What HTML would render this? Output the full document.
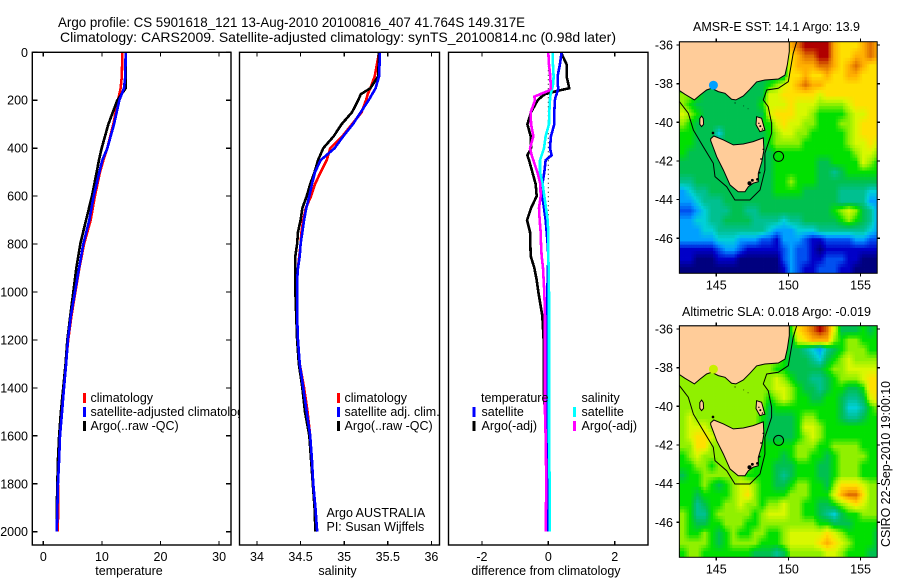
<!DOCTYPE html>
<html lang="en">
<head>
<meta charset="utf-8">
<title>Argo profile chart</title>
<style>
html,body{margin:0;padding:0;background:#fff;width:900px;height:580px;overflow:hidden}
svg{display:block}
text{font-family:"Liberation Sans",sans-serif;font-size:12.5px;fill:#000}
.title{font-size:14px}
.frame{fill:none;stroke:#000;stroke-width:1.4}
.tick{stroke:#000;stroke-width:1.2;shape-rendering:crispEdges}
.prof{fill:none;stroke-width:2.6;stroke-linejoin:miter;shape-rendering:crispEdges}
</style>
</head>
<body>
<svg id="chart" xmlns="http://www.w3.org/2000/svg" width="900" height="580" viewBox="0 0 900 580">
  <defs>
    <clipPath id="clip-temp-legend"><rect x="32" y="40" width="207.5" height="510"/></clipPath>
  </defs>
  <text class="title" x="58" y="27" textLength="467" lengthAdjust="spacingAndGlyphs">Argo profile: CS 5901618_121 13-Aug-2010 20100816_407 41.764S 149.317E</text>
  <text class="title" x="60" y="42" textLength="556" lengthAdjust="spacingAndGlyphs">Climatology: CARS2009. Satellite-adjusted climatology: synTS_20100814.nc (0.98d later)</text>
  <g id="panels"></g>
  <g id="maps"></g>

  <g clip-path="url(#clip-temp-legend)">
    <rect x="83" y="393" width="3" height="10" fill="#ff0000"/>
    <text x="90.5" y="402">climatology</text>
    <rect x="83" y="407" width="3" height="10" fill="#0000ff"/>
    <text x="90.5" y="416">satellite-adjusted climatology</text>
    <rect x="83" y="421" width="3" height="10" fill="#000"/>
    <text x="90.5" y="430">Argo(..raw -QC)</text>
  </g>
  <g>
    <rect x="337" y="393" width="3" height="10" fill="#ff0000"/>
    <text x="344.5" y="402">climatology</text>
    <rect x="337" y="407" width="3" height="10" fill="#0000ff"/>
    <text x="344.5" y="416">satellite adj. clim.</text>
    <rect x="337" y="421" width="3" height="10" fill="#000"/>
    <text x="344.5" y="430">Argo(..raw -QC)</text>
    <text x="326.5" y="517">Argo AUSTRALIA</text>
    <text x="326.5" y="531">PI: Susan Wijffels</text>
  </g>
  <g>
    <text x="481" y="402">temperature</text>
    <rect x="472.5" y="407" width="3" height="10" fill="#0000ff"/>
    <text x="481.5" y="416">satellite</text>
    <rect x="472.5" y="421" width="3" height="10" fill="#000"/>
    <text x="481.5" y="430">Argo(-adj)</text>
    <text x="581.5" y="402">salinity</text>
    <rect x="573" y="407" width="3" height="10" fill="#00ffff"/>
    <text x="581.5" y="416">satellite</text>
    <rect x="573" y="421" width="3" height="10" fill="#ff00ff"/>
    <text x="581.5" y="430">Argo(-adj)</text>
  </g>
  <text transform="translate(890,547) rotate(-90)" textLength="166" lengthAdjust="spacingAndGlyphs">CSIRO 22-Sep-2010 19:00:10</text>
</svg>
<script>
/* ---------- profile data ---------- */
var tempDepths = [0,100,150,200,300,400,450,500,600,700,800,900,1000,1100,1200,1300,1400,1500,1600,1700,1800,1900,2000];
var tempClim   = [13.5,13.4,13.2,12.75,11.95,10.93,10.25,9.67,8.8,8.08,6.95,6.15,5.47,4.8,4.25,3.85,3.5,3.15,2.85,2.7,2.5,2.55,2.45];
var tempSat    = [14.05,14.0,13.77,12.98,12.07,10.93,10.07,9.56,8.6,7.85,6.83,6.1,5.4,4.7,4.2,3.9,3.53,3.2,2.85,2.7,2.5,2.4,2.29];
var tempArgo   = [14.05,14.05,14.05,12.63,11.1,9.96,9.5,9.1,8.31,7.29,6.31,5.63,5.12,4.6,4.1,3.8,3.4,3.0,2.7,2.5,2.4,2.3,2.3];

var salDepths = [0,100,150,175,200,250,300,350,400,450,500,550,600,650,700,750,800,850,900,950,1000,1100,1200,1300,1400,1500,1600,1700,1800,1900,2000];
var salClim   = [35.40,35.35,35.30,35.27,35.25,35.20,35.09,34.98,34.84,34.80,34.73,34.665,34.62,34.56,34.53,34.51,34.50,34.485,34.47,34.46,34.46,34.46,34.47,34.49,34.54,34.58,34.61,34.63,34.645,34.67,34.69];
var salSat    = [35.41,35.40,35.36,35.32,35.28,35.19,35.10,34.99,34.89,34.73,34.665,34.63,34.60,34.565,34.54,34.52,34.50,34.49,34.47,34.46,34.46,34.46,34.47,34.49,34.53,34.57,34.61,34.63,34.645,34.67,34.69];
var salArgo   = [35.40,35.39,35.30,35.19,35.16,35.09,34.97,34.88,34.76,34.70,34.66,34.61,34.57,34.52,34.50,34.47,34.46,34.44,34.44,34.44,34.44,34.45,34.46,34.48,34.52,34.55,34.60,34.62,34.64,34.66,34.67];

var diffDepths  = [0,50,100,130,150,160,175,185,200,250,300,350,400,430,450,500,550,600,650,700,750,800,850,900,950,1000,1100,1200,1300,1400,1500,1600,1700,1800,1900,2000];
var diffTempArgo= [.38,.55,.55,.60,.63,.30,-.10,-.20,-.32,-.52,-.63,-.53,-.52,-.63,-.58,-.48,-.38,-.35,-.52,-.64,-.55,-.54,-.53,-.42,-.35,-.30,-.18,-.14,-.14,-.14,-.10,-.07,-.05,-.04,-.05,-.05];
var diffTempSat = [.40,.35,.28,.28,.30,.28,.25,.22,.20,.18,.18,.08,.05,.10,-.08,-.12,-.18,-.18,-.13,-.08,-.05,-.02,0,-.01,-.02,-.03,-.03,-.03,-.04,-.04,-.04,-.04,-.04,-.04,-.04,-.04];
var diffSalSat  = [.13,.14,.16,.15,.12,.10,.07,.06,.05,.03,.02,-.08,-.13,-.20,-.25,-.25,-.17,-.12,-.07,-.02,0,0,0,.01,.01,.02,.02,.02,.02,.02,.02,.02,.03,.04,.04,.04];
var diffSalArgo = [0,.02,.06,.07,.08,.02,-.25,-.42,-.40,-.53,-.52,-.45,-.55,-.50,-.45,-.33,-.24,-.23,-.28,-.26,-.23,-.22,-.20,-.16,-.14,-.12,-.10,-.10,-.10,-.10,-.10,-.08,-.07,-.06,-.07,-.08];

var depthTicks = [0,200,400,600,800,1000,1200,1400,1600,1800,2000];
var tempTicks  = [0,10,20,30];
var salTicks   = [34,34.5,35,35.5,36];
var diffTicks  = [-2,0,2];
var latTicks   = [-36,-38,-40,-42,-44,-46];
var lonTicks   = [145,150,155];

/* ---------- map data (colour-scale level per half-degree cell, north to south) ---------- */
var sstLevels = [
[6,6,6,6,6,6,6,6,6,6,6,6,6,6,6,11,12,13,13,13,13,11,10,10,10,11,12,11],
[6,6,6,6,6,6,6,6,6,6,6,6,6,6,6,10,11,12,12,13,13,11,10,10,11,11,12,11],
[6,6,6,6,6,6,6,6,6,6,6,6,6,6,6,10,11,11,11,12,12,11,10,11,12,11,10,10],
[6,6,6,6,6,6,6,6,6,6,6,6,6,6,6,10,10,11,10,10,11,10,10,11,11,10,10,10],
[6,6,6,6,6,6,6,6,6,6,6,6,7,8,9,10,11,12,11,11,10,10,10,10,10,10,10,10],
[8,8,7,6,6,6,6,6,6,6,6,6,9,9,10,10,10,10,10,9,10,10,10,10,10,10,10,10],
[8,7,6,6,6,6,6,6,6,6,6,7,9,9,9,10,9,9,9,8,8,8,8,9,10,10,10,10],
[9,8,7,6,6,6,6,6,6,6,6,6,9,10,10,10,9,9,8,7,7,7,7,8,9,9,10,10],
[8,7,6,6,6,6,6,6,6,6,6,7,7,9,10,9,9,8,8,7,7,7,8,8,9,10,10,10],
[7,7,6,6,6,4,6,6,6,6,6,6,7,8,9,9,8,8,7,7,7,7,7,8,9,10,10,10],
[7,7,6,6,6,6,6,6,6,6,6,6,7,8,8,8,8,7,7,7,7,7,7,8,9,9,10,9],
[7,6,6,6,6,6,6,6,6,6,6,6,6,7,7,7,7,7,7,7,7,7,7,7,8,9,9,8],
[6,6,6,6,6,6,6,6,6,6,6,6,6,7,7,7,7,7,7,6,6,7,7,7,7,9,8,7],
[6,6,6,6,6,6,6,6,6,6,6,6,6,7,7,7,7,7,7,6,6,5,6,7,7,7,7,7],
[5,5,6,6,6,6,6,6,6,6,6,6,6,7,7,8,7,7,7,6,6,6,6,6,6,6,6,6],
[3,4,5,5,6,6,6,6,6,6,6,6,6,7,7,7,7,6,6,6,6,6,5,5,5,5,4,4],
[3,3,4,5,5,5,6,6,6,6,6,6,6,6,6,6,6,6,6,6,6,6,5,5,5,5,3,3],
[2,2,3,4,5,5,5,6,6,5,5,6,6,6,6,6,6,6,6,6,6,7,8,9,8,6,5,3],
[3,3,4,4,5,5,6,6,6,6,5,5,5,5,4,5,5,6,6,6,6,6,7,8,7,6,5,3],
[3,3,3,4,4,5,5,5,5,5,5,5,4,3,3,3,4,4,4,5,5,5,5,5,5,5,4,3],
[3,3,3,3,3,4,4,4,3,3,3,2,2,1,3,3,3,2,1,1,2,2,2,2,3,3,2,2],
[1,1,1,1,1,2,3,3,2,1,1,1,1,1,2,3,2,2,1,0,1,1,1,1,1,1,1,1],
[1,1,0,0,0,1,1,1,0,0,0,0,0,0,2,3,2,2,1,1,2,2,2,1,1,0,0,0],
[0,0,0,0,0,0,0,0,0,0,0,0,0,0,1,3,2,1,1,2,2,2,1,1,0,0,0,0]
];
var slaLevels = [
[8,8,8,8,8,8,8,8,8,8,8,8,8,8,8,7,10,11,12,13,12,9,6,6,6,7,6,7],
[8,8,8,8,8,8,8,8,8,8,8,8,8,8,8,6,9,10,11,11,11,8,7,8,8,7,7,7],
[8,8,8,8,8,8,8,8,8,8,8,8,8,8,7,6,6,5,4,3,5,6,7,8,8,8,7,7],
[8,8,8,8,8,8,8,8,8,8,8,8,8,8,7,6,6,6,5,4,6,7,8,9,8,8,8,8],
[8,8,8,8,8,8,8,8,8,8,8,8,8,7,7,6,6,6,6,6,7,8,8,9,9,9,9,9],
[8,8,8,8,8,8,8,8,8,8,8,8,8,9,8,7,6,6,5,5,6,7,8,8,8,9,10,10],
[8,8,8,8,8,8,8,8,8,8,8,8,8,9,9,8,7,6,6,5,6,7,7,6,6,7,10,10],
[8,8,8,8,8,8,8,8,8,8,8,8,7,8,9,8,7,7,6,6,7,7,6,5,5,6,9,10],
[8,8,8,8,8,8,8,8,8,8,8,8,6,7,7,7,7,7,7,7,7,7,6,4,4,5,7,8],
[8,9,8,8,8,8,8,8,8,8,8,7,6,6,6,6,7,8,8,7,7,7,6,5,5,6,7,7],
[8,9,9,9,8,8,8,8,8,8,8,7,6,6,6,6,7,9,9,8,7,7,7,7,7,7,7,7],
[8,9,10,10,9,8,8,8,8,8,8,7,6,6,6,6,7,8,9,8,7,7,7,7,7,7,7,7],
[8,8,10,10,8,8,8,8,8,8,8,7,7,7,7,7,8,8,8,7,7,8,8,8,8,7,7,7],
[7,8,9,8,8,8,8,8,8,8,7,7,7,7,6,7,8,8,7,7,6,7,8,8,8,8,7,7],
[7,7,8,8,7,8,8,8,8,8,7,7,7,6,6,6,7,7,7,6,6,7,8,8,8,7,7,7],
[6,7,7,8,8,8,8,8,8,7,7,7,7,6,5,6,7,7,7,6,6,7,8,8,8,7,7,7],
[7,7,7,8,7,6,7,8,9,9,8,7,7,6,6,7,8,8,7,7,6,8,10,10,10,9,8,8],
[7,7,6,7,7,7,7,8,9,10,8,7,7,7,7,8,8,8,7,7,7,9,11,12,12,10,8,8],
[7,7,5,6,7,7,8,8,9,8,8,7,8,8,9,8,8,7,7,6,6,7,8,9,10,9,8,8],
[8,7,5,5,7,8,8,8,8,8,7,8,9,9,9,8,8,7,7,6,5,4,6,7,7,8,8,8],
[8,7,6,6,7,7,8,8,8,7,7,8,8,8,8,8,8,8,8,7,7,6,6,6,7,7,7,7],
[8,7,7,8,7,6,7,8,7,7,8,8,7,7,8,9,9,9,9,9,10,9,8,7,7,7,7,6],
[8,8,8,8,7,6,7,8,8,8,8,7,7,7,8,9,9,9,9,10,11,10,9,8,7,7,7,6],
[7,8,8,7,7,7,7,7,7,7,6,6,6,5,6,8,8,8,8,8,9,9,8,7,7,7,6,6]
];
var levelColors = ['#00007f','#0000c8','#0050f0','#00a0ff','#00d0d8','#00c090','#00c050','#00e000','#90f000','#d8f800','#ffe000','#ffb000','#e07000','#b00000'];

/* geography in [lon, lat] */
var mainland = [[142.44,-35.83],[142.44,-38.36],[142.83,-38.55],[143.48,-38.84],[143.87,-38.59],[144.33,-38.33],[144.68,-38.24],[145.14,-38.41],[145.6,-38.5],[146.06,-38.81],[146.36,-38.84],[146.87,-38.64],[147.33,-38.29],[147.79,-37.91],[148.37,-37.81],[149.3,-37.76],[149.76,-37.55],[149.92,-37.03],[150.06,-36.34],[150.06,-35.83]];
var tasmania = [[144.61,-40.85],[144.83,-40.71],[145.49,-40.91],[146.18,-41.17],[146.87,-41.12],[147.56,-41.0],[148.26,-40.8],[148.3,-41.43],[148.15,-42.04],[147.91,-42.64],[147.91,-43.07],[147.56,-43.15],[147.22,-43.33],[146.99,-43.59],[146.52,-43.59],[145.95,-43.24],[145.49,-42.47],[145.03,-41.78],[144.61,-40.95]];
var kingIsland = [[143.98,-39.68],[144.1,-39.8],[144.12,-40.1],[143.98,-40.22],[143.86,-40.1],[143.86,-39.8]];
var flindersIsland = [[147.79,-39.71],[148.14,-39.79],[148.37,-40.4],[148.02,-40.48],[147.75,-40.12]];
var coastBlobs = [[147.3,-43.15,.14],[147.5,-43.0,.1],[147.85,-42.95,.09],[148.0,-42.6,.07],[148.1,-41.9,.06],[148.25,-41.4,.05],[148.05,-40.2,.07],[147.95,-40.05,.05],[148.2,-40.35,.05],[144.77,-40.55,.09],[146.3,-39.0,.04],[147.2,-39.3,.03],[146.9,-39.15,.03]];
var isobath = [[142.44,-38.93],[143.06,-39.53],[143.41,-40.4],[144.1,-41.26],[144.79,-42.12],[144.91,-42.81],[145.72,-43.33],[146.29,-44.02],[147.33,-44.02],[148.03,-43.5],[148.37,-42.47],[148.37,-41.6],[148.83,-40.57],[148.83,-40.05],[148.6,-39.19],[148.26,-38.84],[148.49,-38.33],[149.3,-38.24],[149.99,-37.9],[150.33,-36.43],[150.57,-35.83]];
var profileLon = 149.317;
var profileLat = -41.764;

/* ---------- drawing ---------- */
var svg = document.getElementById('chart');
var NS = 'http://www.w3.org/2000/svg';
function mk(tag, parent){ var e = document.createElementNS(NS, tag); parent.appendChild(e); return e; }

var depthY = function(d){ return 52.3 + d * 0.2397; };

function ticksAndFrame(g, left, right, xScale, xTicks, showDepth, topTicks){
  var top = 52.3, bot = 545;
  var f = mk('rect', g);
  
  
  f.setAttribute('class', 'frame');
  f.setAttribute('x', left); f.setAttribute('y', top);
  f.setAttribute('width', right - left); f.setAttribute('height', bot - top);
  xTicks.forEach(function(t){
    var x = xScale(t);
    var b = mk('line', g);
    
    
    b.setAttribute('class', 'tick');
    b.setAttribute('x1', x); b.setAttribute('x2', x);
    b.setAttribute('y1', bot); b.setAttribute('y2', bot - 4);
    if (topTicks.indexOf(t) >= 0){
      var u = mk('line', g);
      
      
      u.setAttribute('class', 'tick');
      u.setAttribute('x1', x); u.setAttribute('x2', x);
      u.setAttribute('y1', top); u.setAttribute('y2', top + 4);
    }
    var l = mk('text', g);
    
    
    l.setAttribute('x', x); l.setAttribute('y', 561);
    l.setAttribute('text-anchor', 'middle');
    l.textContent = String(t);
  });
  if (showDepth){
    depthTicks.forEach(function(d){
      var y = depthY(d);
      [[left, left + 5], [right, right - 5]].forEach(function(p){
        var t = mk('line', g);
        
        
        t.setAttribute('class', 'tick');
        t.setAttribute('x1', p[0]); t.setAttribute('x2', p[1]);
        t.setAttribute('y1', y); t.setAttribute('y2', y);
      });
      var l = mk('text', g);
      
      
      l.setAttribute('x', 28); l.setAttribute('y', y + 4.5);
      l.setAttribute('text-anchor', 'end');
      l.textContent = String(d);
    });
  }
}

function profile(g, name, color, depths, values, xScale, width){
  var p = mk('polyline', g);
  
  
  p.setAttribute('class', 'prof');
  p.setAttribute('stroke', color);
  if (width) p.setAttribute('stroke-width', width);
  p.setAttribute('points', values.map(function(v, i){ return xScale(v).toFixed(2) + ',' + depthY(depths[i]).toFixed(2); }).join(' '));
}

function axisTitle(g, name, x, label){
  var t = mk('text', g);
  
  
  t.setAttribute('x', x); t.setAttribute('y', 575);
  t.setAttribute('text-anchor', 'middle');
  t.textContent = label;
}

var panels = document.getElementById('panels');

/* temperature panel */
var gT = mk('g', panels);


var xT = function(v){ return 43.3 + v * 5.86; };
profile(gT, 'temperature-climatology-line', '#ff0000', tempDepths, tempClim, xT);
profile(gT, 'temperature-argo-line', '#000000', tempDepths, tempArgo, xT);
profile(gT, 'temperature-satellite-line', '#0000ff', tempDepths, tempSat, xT);
ticksAndFrame(gT, 32.3, 231, xT, tempTicks, true, tempTicks);
axisTitle(gT, 'temperature-axis-title', 129, 'temperature');

/* salinity panel */
var gS = mk('g', panels);


var xS = function(v){ return 257 + (v - 34) * 87.2; };
profile(gS, 'salinity-climatology-line', '#ff0000', salDepths, salClim, xS);
profile(gS, 'salinity-argo-line', '#000000', salDepths, salArgo, xS);
profile(gS, 'salinity-satellite-line', '#0000ff', salDepths, salSat, xS);
ticksAndFrame(gS, 239.5, 439.5, xS, salTicks, false, salTicks);
axisTitle(gS, 'salinity-axis-title', 337.5, 'salinity');

/* difference panel */
var gD = mk('g', panels);


var xD = function(v){ return 548.3 + v * 33.2; };
var zero = mk('line', gD);


zero.setAttribute('x1', xD(0)); zero.setAttribute('x2', xD(0));
zero.setAttribute('y1', depthY(0)); zero.setAttribute('y2', depthY(2000));
zero.setAttribute('stroke', '#000');
zero.setAttribute('stroke-dasharray', '1 3.5');
profile(gD, 'temperature-argo-difference-line', '#000000', diffDepths, diffTempArgo, xD, 2.4);
profile(gD, 'temperature-satellite-difference-line', '#0000ff', diffDepths, diffTempSat, xD, 2.4);
profile(gD, 'salinity-satellite-difference-line', '#00ffff', diffDepths, diffSalSat, xD, 2.4);
profile(gD, 'salinity-argo-difference-line', '#ff00ff', diffDepths, diffSalArgo, xD, 2.4);
ticksAndFrame(gD, 448.5, 648, xD, diffTicks, false, [-2, 2]);
axisTitle(gD, 'difference-axis-title', 546, 'difference from climatology');

/* colour scale and bilinear sampling of the level grids */
function hexToRgb(h){ return [parseInt(h.substr(1,2),16), parseInt(h.substr(3,2),16), parseInt(h.substr(5,2),16)]; }
function levelColor(v){
  var n = levelColors.length - 1;
  var c = Math.max(0, Math.min(n, v));
  var a = Math.floor(c), b = Math.min(n, a + 1), t = c - a;
  var A = hexToRgb(levelColors[a]), B = hexToRgb(levelColors[b]);
  return 'rgb(' + Math.round(A[0] + (B[0]-A[0])*t) + ',' + Math.round(A[1] + (B[1]-A[1])*t) + ',' + Math.round(A[2] + (B[2]-A[2])*t) + ')';
}
function sampleGrid(levels, u, v){
  var rows = levels.length, cols = levels[0].length;
  var x = Math.max(0, Math.min(cols - 1, u)), y = Math.max(0, Math.min(rows - 1, v));
  var i0 = Math.floor(x), j0 = Math.floor(y);
  var i1 = Math.min(cols - 1, i0 + 1), j1 = Math.min(rows - 1, j0 + 1);
  var fx = x - i0, fy = y - j0;
  return levels[j0][i0]*(1-fx)*(1-fy) + levels[j0][i1]*fx*(1-fy) + levels[j1][i0]*(1-fx)*fy + levels[j1][i1]*fx*fy;
}

/* maps */
function drawMap(cfg){
  var maps = document.getElementById('maps');
  var g = mk('g', maps);
  
  
  var lonX = function(lon){ return 716.3 + (lon - 145) * 14.43; };
  var latY = function(lat){ return cfg.y36 + (-36 - lat) * 19.33; };
  var left = lonX(142.44), right = lonX(156.15);
  var top = latY(-35.83), bottom = latY(-47.81);
  var clipId = cfg.name + '-clip';
  var cp = mk('clipPath', g);
  cp.setAttribute('id', clipId);
  var cr = mk('rect', cp);
  cr.setAttribute('x', left); cr.setAttribute('y', top);
  cr.setAttribute('width', right - left); cr.setAttribute('height', bottom - top);
  var inner = mk('g', g);
  inner.setAttribute('clip-path', 'url(#' + clipId + ')');
  var sub = 3;
  var rowsN = cfg.levels.length, colsN = cfg.levels[0].length;
  for (var j = 0; j < rowsN * sub; j++){
    for (var i = 0; i < colsN * sub; i++){
      var level = sampleGrid(cfg.levels, (i - 1) / sub, (j - 1) / sub);
      var c = mk('rect', inner);
      
      
      c.setAttribute('x', lonX(142.44 + i * 0.5 / sub).toFixed(2));
      c.setAttribute('y', latY(-35.83 - j * 0.5 / sub).toFixed(2));
      c.setAttribute('width', (0.5 / sub * 14.43 + 0.4).toFixed(2));
      c.setAttribute('height', (0.5 / sub * 19.33 + 0.4).toFixed(2));
      c.setAttribute('fill', levelColor(level));
    }
  }
  var toPts = function(arr){ return arr.map(function(p){ return lonX(p[0]).toFixed(1) + ',' + latY(p[1]).toFixed(1); }).join(' '); };
  [[mainland, 'mainland'], [tasmania, 'tasmania'], [kingIsland, 'king-island'], [flindersIsland, 'flinders-island']].forEach(function(s){
    var p = mk('polygon', inner);
    
    
    p.setAttribute('points', toPts(s[0]));
    p.setAttribute('fill', '#ffcc99');
    p.setAttribute('stroke', '#000');
    p.setAttribute('stroke-width', '1');
  });
  var bay = mk('circle', inner);
  
  
  bay.setAttribute('cx', lonX(144.8)); bay.setAttribute('cy', latY(-38.08)); bay.setAttribute('r', 4.5);
  bay.setAttribute('fill', cfg.bayColor);
  coastBlobs.forEach(function(b){
    var e = mk('ellipse', inner);
    
    
    e.setAttribute('cx', lonX(b[0])); e.setAttribute('cy', latY(b[1]));
    e.setAttribute('rx', b[2] * 14.43); e.setAttribute('ry', b[2] * 14.43);
    e.setAttribute('fill', '#000');
  });
  var iso = mk('polyline', inner);
  
  
  iso.setAttribute('points', toPts(isobath));
  iso.setAttribute('fill', 'none');
  iso.setAttribute('stroke', '#000');
  iso.setAttribute('stroke-width', '1');
  var marker = mk('circle', inner);
  
  
  marker.setAttribute('cx', lonX(profileLon)); marker.setAttribute('cy', latY(profileLat)); marker.setAttribute('r', 5);
  marker.setAttribute('fill', 'none');
  marker.setAttribute('stroke', '#000');
  var f = mk('rect', g);
  
  
  f.setAttribute('x', left); f.setAttribute('y', top);
  f.setAttribute('width', right - left); f.setAttribute('height', bottom - top);
  f.setAttribute('fill', 'none');
  f.setAttribute('stroke', '#000');
  latTicks.forEach(function(lat){
    var y = latY(lat);
    [[left - 3, left], [right, right + 3]].forEach(function(p){
      var t = mk('line', g);
      
      
      t.setAttribute('class', 'tick');
      t.setAttribute('x1', p[0]); t.setAttribute('x2', p[1]);
      t.setAttribute('y1', y); t.setAttribute('y2', y);
    });
    var l = mk('text', g);
    
    
    l.setAttribute('x', 673); l.setAttribute('y', y + 4.5);
    l.setAttribute('text-anchor', 'end');
    l.textContent = String(lat);
  });
  lonTicks.forEach(function(lon){
    var x = lonX(lon);
    [[top - 3, top], [bottom, bottom + 3]].forEach(function(p){
      var t = mk('line', g);
      
      
      t.setAttribute('class', 'tick');
      t.setAttribute('x1', x); t.setAttribute('x2', x);
      t.setAttribute('y1', p[0]); t.setAttribute('y2', p[1]);
    });
    var l = mk('text', g);
    
    
    l.setAttribute('x', x); l.setAttribute('y', bottom + 16);
    l.setAttribute('text-anchor', 'middle');
    l.textContent = String(lon);
  });
  var ti = mk('text', g);
  
  
  ti.setAttribute('x', cfg.titleX); ti.setAttribute('y', cfg.titleY);
  ti.setAttribute('textLength', cfg.titleLen);
  ti.setAttribute('lengthAdjust', 'spacingAndGlyphs');
  ti.textContent = cfg.title;
}

drawMap({name:'sst-map', levels:sstLevels, y36:45, title:'AMSR-E SST: 14.1 Argo: 13.9', titleX:693, titleY:31, titleLen:167, bayColor:'#00a0ff'});
drawMap({name:'sla-map', levels:slaLevels, y36:329, title:'Altimetric SLA: 0.018 Argo: -0.019', titleX:682, titleY:316, titleLen:189, bayColor:'#c8f000'});
</script>
</body>
</html>
